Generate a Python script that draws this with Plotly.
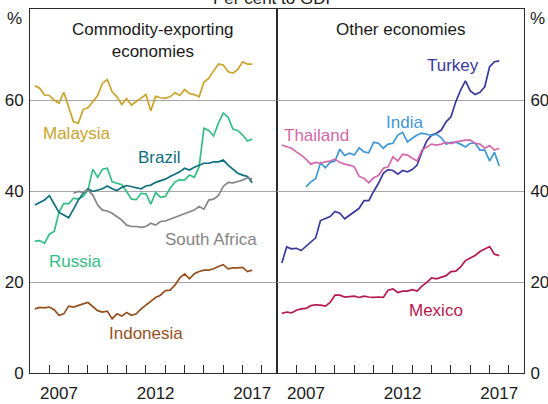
import plotly.graph_objects as go

# ---------------- data (quarterly, per cent to GDP) ----------------
quarters = [2006.25 + 0.25 * k for k in range(46)]  # 2006 Q2 ... 2017 Q3

malaysia = [63.1, 62.6, 61.1, 61.0, 60.0, 59.3, 61.7, 58.2, 55.2, 54.9, 57.9, 58.3,
            59.6, 61.0, 63.7, 64.5, 61.8, 60.7, 59.0, 60.3, 58.9, 59.6, 60.4, 61.2,
            57.6, 60.8, 60.5, 60.4, 60.7, 61.6, 61.0, 62.3, 61.4, 61.2, 60.7, 63.9,
            64.8, 66.4, 67.9, 67.7, 66.2, 65.9, 66.7, 68.4, 67.9, 67.9]
russia = [29.0, 29.1, 28.5, 30.5, 31.1, 35.3, 37.3, 37.2, 38.4, 38.2, 38.8, 40.2,
          44.8, 43.0, 44.8, 45.0, 42.0, 41.7, 41.4, 39.9, 38.2, 38.1, 39.5, 39.4,
          37.1, 39.7, 38.6, 38.8, 40.6, 42.0, 42.5, 42.4, 43.5, 43.0, 45.3, 53.8,
          53.3, 52.1, 54.9, 57.1, 56.2, 53.6, 53.3, 52.3, 51.0, 51.4]
brazil = [36.9, 37.5, 38.0, 39.0, 37.0, 35.3, 34.7, 34.1, 36.0, 38.0, 39.5, 40.5,
          39.9, 40.2, 40.5, 41.1, 40.5, 40.1, 40.8, 41.2, 41.0, 40.7, 40.5, 41.1,
          41.3, 41.9, 42.3, 42.6, 43.2, 43.7, 44.2, 45.0, 44.6, 45.2, 45.7, 46.1,
          46.1, 46.4, 46.4, 46.8, 45.7, 44.8, 43.9, 43.5, 43.2, 41.8]
south_africa = [None] * 8 + [
          39.5, 39.9, 39.7, 40.2, 39.1, 36.9, 35.8, 35.6, 35.1, 34.4, 33.6, 32.5,
          32.2, 32.2, 32.0, 32.2, 32.9, 32.5, 33.3, 33.4, 33.8, 34.1, 34.6, 34.9,
          35.3, 35.8, 36.6, 36.0, 38.0, 38.2, 39.0, 41.0, 41.9, 41.8, 42.1, 42.4,
          42.9, 42.6]
indonesia = [14.1, 14.4, 14.3, 14.5, 13.9, 12.7, 13.0, 14.7, 14.5, 14.9, 15.2, 15.5,
             14.7, 13.7, 13.4, 13.6, 11.9, 13.0, 12.5, 13.3, 12.7, 13.0, 14.1, 14.9,
             15.6, 16.6, 17.1, 18.1, 18.2, 19.3, 20.9, 21.8, 20.7, 21.8, 22.3, 22.6,
             22.6, 22.9, 23.4, 23.8, 22.9, 23.1, 23.1, 23.2, 22.3, 22.6]

turkey = [24.2, 27.7, 27.3, 27.4, 26.9, 27.8, 28.8, 29.7, 33.5, 34.0, 34.4, 35.5,
          35.1, 33.9, 34.7, 35.3, 36.2, 37.9, 37.9, 39.9, 41.7, 43.9, 44.7, 44.5,
          43.7, 44.5, 44.2, 44.7, 45.7, 48.6, 51.0, 52.3, 52.7, 53.4, 55.2, 56.3,
          59.6, 62.2, 64.2, 62.0, 61.2, 61.7, 62.9, 67.3, 68.4, 68.6]
india = [None] * 5 + [
         40.9, 42.0, 42.7, 46.2, 45.1, 46.3, 46.6, 49.2, 47.8, 48.3, 47.9, 49.5,
         48.6, 48.4, 50.7, 50.5, 49.4, 50.3, 50.5, 52.3, 52.9, 50.8, 51.6, 52.3,
         52.7, 52.5, 52.2, 52.5, 51.7, 50.3, 50.7, 50.7, 50.3, 49.7, 50.5, 50.5,
         49.0, 49.0, 46.6, 48.5, 45.5]
thailand = [50.1, 49.7, 49.4, 48.6, 47.9, 47.0, 45.9, 46.3, 46.1, 46.4, 46.6, 47.0,
            46.3, 45.9, 45.7, 45.3, 43.2, 42.8, 41.8, 42.9, 43.4, 45.0, 45.3, 47.5,
            46.6, 48.1, 47.9, 47.2, 46.6, 49.0, 49.7, 50.3, 50.1, 50.3, 50.7, 50.4,
            50.8, 51.0, 51.2, 51.2, 50.5, 50.3, 49.4, 50.0, 49.0, 49.4]
mexico = [13.1, 13.4, 13.2, 13.8, 14.1, 14.2, 14.8, 15.0, 14.9, 14.7, 15.5, 17.1,
          17.1, 16.7, 16.8, 16.9, 16.6, 16.9, 16.7, 16.6, 16.7, 16.6, 18.2, 18.5,
          17.7, 18.0, 18.0, 18.3, 18.0, 19.1, 19.9, 20.9, 20.7, 21.1, 21.4, 22.3,
          22.4, 23.3, 24.7, 25.3, 25.8, 26.7, 27.3, 27.8, 26.1, 25.8]

year_ticks = list(range(2007, 2019))
year_label_vals = [2007.5, 2012.5, 2017.5]
year_label_text = ["2007", "2012", "2017"]
y_ticks = [0, 20, 40, 60]
x_range = [2006, 2018.78]
y_range = [0, 80]

# ---------------- style ----------------
FONT = "Arial, Liberation Sans, sans-serif"
TXT = "#1a1a1a"
AX = "#2b2b2b"
GRID = "#a6a6a6"

left_series = [
    ("Malaysia", malaysia, "#C9A42B", 77, 52.6),
    ("Russia", russia, "#34BE86", 75, 24.6),
    ("Brazil", brazil, "#106E80", 159, 47.3),
    ("South Africa", south_africa, "#858585", 211, 29.3),
    ("Indonesia", indonesia, "#96501F", 146, 8.6),
]
right_series = [
    ("Turkey", turkey, "#3B3A9C", 453, 67.5),
    ("India", india, "#3F97D6", 404, 55.1),
    ("Thailand", thailand, "#D468A8", 316, 52.2),
    ("Mexico", mexico, "#B7194F", 436, 13.8),
]

fig = go.Figure()
annotations = []
for name, vals, col, lx, ly in left_series:
    fig.add_trace(go.Scatter(x=quarters, y=vals, mode="lines", name=name,
                             line=dict(color=col, width=1.7), xaxis="x", yaxis="y",
                             connectgaps=False))
for name, vals, col, lx, ly in right_series:
    fig.add_trace(go.Scatter(x=quarters, y=vals, mode="lines", name=name,
                             line=dict(color=col, width=1.7), xaxis="x2", yaxis="y2",
                             connectgaps=False))

W, H = 548, 404
L, R, T, B = 30, 24, 9, 31
pw, ph = W - L - R, H - T - B
for name, vals, col, lx, ly in left_series + right_series:
    annotations.append(dict(text=name, x=(lx - L) / pw, y=ly / 80, xref="paper", yref="paper",
                            showarrow=False, font=dict(size=17, color=col, family=FONT),
                            xanchor="center", yanchor="middle"))

annotations.append(dict(text="Commodity-exporting<br>economies", x=(153 - L) / pw, y=1 - 9 / ph,
                        xref="paper", yref="paper", showarrow=False, yanchor="top",
                        xanchor="center",
                        font=dict(size=17, color=TXT, family=FONT)))
annotations.append(dict(text="Other economies", x=(400 - L) / pw, y=1 - 9 / ph,
                        xref="paper", yref="paper", showarrow=False, yanchor="top",
                        xanchor="center",
                        font=dict(size=17, color=TXT, family=FONT)))
annotations.append(dict(text="%", x=-16 / pw, y=1 - 9 / ph, xref="paper", yref="paper",
                        showarrow=False, font=dict(size=17, color=TXT, family=FONT),
                        xanchor="center", yanchor="middle"))
annotations.append(dict(text="%", x=1 + 13 / pw, y=1 - 9 / ph, xref="paper", yref="paper",
                        showarrow=False, font=dict(size=17, color=TXT, family=FONT),
                        xanchor="center", yanchor="middle"))
annotations.append(dict(text="Per cent to GDP", x=(275 - L) / pw, y=1 - 1 / ph, xref="paper",
                        yref="paper", showarrow=False, yanchor="bottom", xanchor="center",
                        font=dict(size=17, color=TXT, family=FONT)))

xcommon = dict(range=x_range, tickmode="array", tickvals=year_ticks, showticklabels=False,
               ticks="inside", ticklen=8, tickwidth=1, tickcolor=AX, showgrid=False,
               showline=True, linecolor=AX, linewidth=1, mirror=True, zeroline=False,
               fixedrange=True, automargin=False)
xlabels = dict(range=x_range, tickmode="array", tickvals=year_label_vals,
               ticktext=year_label_text, ticks="", showgrid=False, showline=False,
               zeroline=False, tickfont=dict(size=17, color=TXT, family=FONT),
               ticklabelstandoff=8, automargin=False)
ycommon = dict(range=y_range, tickmode="array", tickvals=y_ticks, ticks="",
               showgrid=True, gridcolor=GRID, gridwidth=1, showline=True, linecolor=AX,
               linewidth=1, mirror=True, zeroline=False, automargin=False,
               tickfont=dict(size=17, color=TXT, family=FONT), fixedrange=True)

fig.update_layout(
    width=W, height=H,
    margin=dict(l=L, r=R, t=T, b=B, autoexpand=False),
    paper_bgcolor="white", plot_bgcolor="white",
    showlegend=False,
    font=dict(family=FONT, color=TXT),
    xaxis=dict(domain=[0, 0.5], anchor="y", **xcommon),
    xaxis2=dict(domain=[0.5, 1], anchor="y2", **xcommon),
    xaxis3=dict(domain=[0, 0.5], anchor="y", overlaying="x", side="bottom", **xlabels),
    xaxis4=dict(domain=[0.5, 1], anchor="y2", overlaying="x2", side="bottom", **xlabels),
    yaxis=dict(domain=[0, 1], anchor="x", side="left", ticklabelstandoff=2, **ycommon),
    yaxis2=dict(domain=[0, 1], anchor="x2", side="right", ticklabelstandoff=2, **ycommon),
    annotations=annotations,
)
fig.add_trace(go.Scatter(x=[None], y=[None], xaxis="x3", yaxis="y", showlegend=False, hoverinfo="skip"))
fig.add_trace(go.Scatter(x=[None], y=[None], xaxis="x4", yaxis="y2", showlegend=False, hoverinfo="skip"))

fig.write_html("out.html", config={"displayModeBar": False},
               post_script="document.body.style.margin='0';document.body.style.padding='0';")
